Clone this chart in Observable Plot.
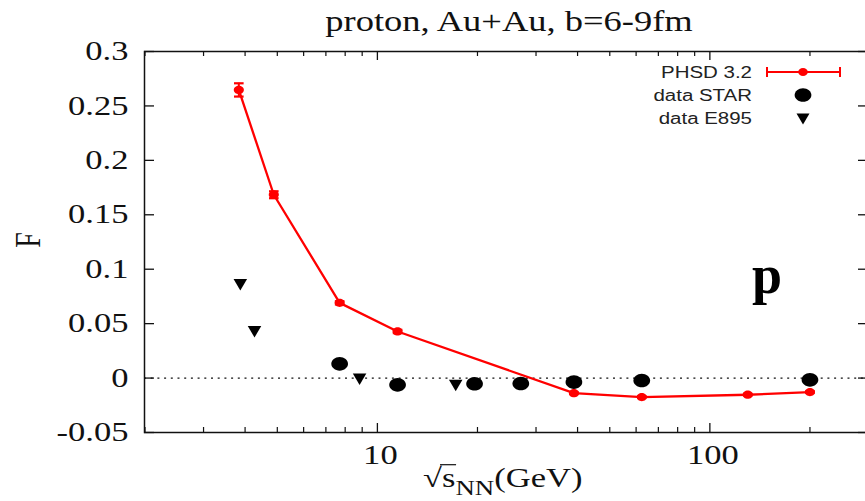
<!DOCTYPE html>
<html>
<head>
<meta charset="utf-8">
<script src="https://cdn.jsdelivr.net/npm/d3@7"></script>
<script src="https://cdn.jsdelivr.net/npm/@observablehq/plot@0.6"></script>
<style>
  html, body { margin: 0; padding: 0; background: #fff; overflow: hidden; }
  #wrap { position: relative; width: 865px; height: 501px; background: #fff; }
  #title { position: relative; height: 40px; }
  #title span {
    position: absolute; left: 509px; top: 8px; white-space: nowrap;
    font-family: "Liberation Serif", "Times New Roman", serif; font-size: 28.5px; line-height: 1;
    color: #111; transform: translateX(-50%) scaleX(1.28);
  }
  #overlay { position: absolute; left: 0; top: 0; pointer-events: none; }
</style>
</head>
<body>
<div id="wrap">
  <div id="title"><span>proton, Au+Au, b=6-9fm</span></div>
  <div id="chart"></div>
</div>
<script>
// ---- data ----
const phsdEnergy = [3.83, 4.88, 7.7, 11.5, 39, 62.4, 130, 200];
const phsdF      = [0.2647, 0.1684, 0.0691, 0.0428, -0.0139, -0.0175, -0.0153, -0.0129];
const phsdErr    = [0.0061, 0.0032, 0.0015, 0.0015, 0.0008, 0.0008, 0.0008, 0.0008];

const starEnergy = [7.7, 11.5, 19.6, 27, 39, 62.4, 200];
const starF      = [0.0131, -0.0062, -0.0052, -0.005, -0.0037, -0.0022, -0.0016];

const e895Energy = [3.87, 4.27, 8.84, 17.2];
const e895F      = [0.0857, 0.0425, -0.001, -0.0068];

const yTicks      = [-0.05, 0, 0.05, 0.1, 0.15, 0.2, 0.25, 0.3];
const yTickLabels = ["-0.05", "0", "0.05", "0.1", "0.15", "0.2", "0.25", "0.3"];
const xMajor      = [10, 100];
const xTickLabels = ["10", "100"];
const xMinor      = [2, 3, 4, 5, 6, 7, 8, 9, 20, 30, 40, 50, 60, 70, 80, 90, 200, 300];

const seriesNames = ["PHSD 3.2", "data STAR", "data E895"];
const titleText = "proton, Au+Au, b=6-9fm";
const yLabel = "F";
const panelLabel = "p";

// ---- tables ----
const phsd = phsdEnergy.map((x, i) => ({x, y: phsdF[i], e: phsdErr[i]}));
const star = starEnergy.map((x, i) => ({x, y: starF[i]}));
const e895 = e895Energy.map((x, i) => ({x, y: e895F[i]}));

// ---- custom symbols (the reference is horizontally stretched) ----
const K = 0.5523;
const ellipse = {
  draw(ctx, size) {
    const r = Math.sqrt(size / Math.PI), rx = r * 1.1, ry = r * 0.9;
    ctx.moveTo(rx, 0);
    ctx.bezierCurveTo(rx, ry * K, rx * K, ry, 0, ry);
    ctx.bezierCurveTo(-rx * K, ry, -rx, ry * K, -rx, 0);
    ctx.bezierCurveTo(-rx, -ry * K, -rx * K, -ry, 0, -ry);
    ctx.bezierCurveTo(rx * K, -ry, rx, -ry * K, rx, 0);
    ctx.closePath();
  }
};
const triDown = {
  draw(ctx, size) {
    const r = Math.sqrt(size / Math.PI), w = 2.6 * r, h = 2.2 * r;
    ctx.moveTo(-w / 2, -h / 2);
    ctx.lineTo(w / 2, -h / 2);
    ctx.lineTo(0, h / 2);
    ctx.closePath();
  }
};
const cap = {
  draw(ctx, size) {
    const r = Math.sqrt(size / Math.PI);
    ctx.moveTo(-r, 0);
    ctx.lineTo(r, 0);
  }
};

const RED = "#ff0000";
const W = 865, H = 461, mt = 11, mb = 69, ml = 144, mr = -3;
const fw = W - ml - mr, fh = H - mt - mb;

const chart = Plot.plot({
  width: W, height: H,
  marginTop: mt, marginBottom: mb, marginLeft: ml, marginRight: mr,
  x: {type: "log", domain: [2, 300], range: [144.5, 868]},
  y: {domain: [-0.05, 0.3]},
  style: {fontFamily: "Liberation Serif, Times New Roman, serif", fontSize: "27px", color: "#111", background: "white", overflow: "visible"},
  marks: [
    Plot.ruleY([0], {stroke: "#111", strokeWidth: 1.2, strokeDasharray: "2,4.7"}),
    Plot.line(phsd, {x: "x", y: "y", stroke: RED, strokeWidth: 2.3}),
    Plot.ruleX(phsd, {x: "x", y1: d => d.y - d.e, y2: d => d.y + d.e, stroke: RED, strokeWidth: 2}),
    Plot.dot(phsd, {x: "x", y: d => d.y - d.e, symbol: cap, r: 4.8, stroke: RED, strokeWidth: 2.2, fill: "none"}),
    Plot.dot(phsd, {x: "x", y: d => d.y + d.e, symbol: cap, r: 4.8, stroke: RED, strokeWidth: 2.2, fill: "none"}),
    Plot.dot(phsd, {x: "x", y: "y", symbol: ellipse, r: 4.6, fill: RED, stroke: "none"}),
    Plot.dot(star, {x: "x", y: "y", symbol: ellipse, r: 7.6, fill: "#000", stroke: "none"}),
    Plot.dot(e895, {x: "x", y: "y", symbol: triDown, r: 5.2, fill: "#000", stroke: "none"}),
    Plot.frame({stroke: "#111", strokeWidth: 1.5}),
    // inward mirrored ticks
    Plot.tickX(xMajor, {x: d => d, insetBottom: fh - 9, stroke: "#111", strokeWidth: 1.3}),
    Plot.tickX(xMajor, {x: d => d, insetTop: fh - 9, stroke: "#111", strokeWidth: 1.3}),
    Plot.tickX(xMinor, {x: d => d, insetBottom: fh - 5, stroke: "#111", strokeWidth: 1.2}),
    Plot.tickX(xMinor, {x: d => d, insetTop: fh - 5, stroke: "#111", strokeWidth: 1.2}),
    Plot.tickY(yTicks, {y: d => d, insetRight: fw - 10, stroke: "#111", strokeWidth: 1.3}),
    Plot.tickY(yTicks, {y: d => d, insetLeft: fw - 10, stroke: "#111", strokeWidth: 1.3}),
    Plot.axisX(xMajor, {tickSize: 0, tickPadding: 12, dx: 3, label: null,
      tickFormat: d => xTickLabels[xMajor.indexOf(d)], fill: "#111"}),
    Plot.axisY(yTicks, {tickSize: 0, tickPadding: 16, label: null,
      tickFormat: d => yTickLabels[yTicks.indexOf(d)], fill: "#111"})
  ]
});
document.getElementById("chart").appendChild(chart);

// horizontal stretch of text, as in the reference
chart.querySelectorAll("text").forEach(t => {
  const tr = t.getAttribute("transform") || "";
  t.setAttribute("transform", (tr + " scale(1.28,1)").trim());
});

// ---- overlay: axis labels, legend, panel label ----
const ov = d3.select("#wrap").append("svg")
  .attr("id", "overlay").attr("width", 865).attr("height", 501);

// y label
ov.append("text")
  .attr("transform", "translate(40,240) rotate(-90) scale(1,1.28)")
  .attr("text-anchor", "middle")
  .attr("font-family", "Liberation Serif, serif").attr("font-size", 28)
  .attr("fill", "#111").text(yLabel);

// x label: √s_NN(GeV)
const xl = ov.append("text")
  .attr("transform", "translate(423,487) scale(1.28,1)")
  .attr("font-family", "Liberation Serif, serif").attr("font-size", 27)
  .attr("fill", "#111");
const rad = xl.append("tspan").text("√");
const sSpan = xl.append("tspan").text("s");
xl.append("tspan").attr("font-size", 21).attr("dy", 8).text("NN");
xl.append("tspan").attr("dy", -8).text("(GeV)");
// radical overbar above "s"
try {
  const ext = sSpan.node().getExtentOfChar ? null : null;
  const n = xl.node();
  const a = n.getStartPositionOfChar(1), b = n.getEndPositionOfChar(1);
  const r0 = n.getEndPositionOfChar(0);
  ov.append("line")
    .attr("transform", "translate(423,487) scale(1.28,1)")
    .attr("x1", r0.x - 1.5).attr("x2", b.x + 0.5).attr("y1", -22.3).attr("y2", -22.3)
    .attr("stroke", "#111").attr("stroke-width", 1.2);
} catch (e) {}

// legend
const rowsY = [72, 95, 118];
const lg = ov.append("g").attr("font-family", "Liberation Sans, Arial, sans-serif").attr("font-size", 16).attr("fill", "#222");
seriesNames.forEach((name, i) => {
  lg.append("text").attr("transform", `translate(752,${rowsY[i] + 5.5}) scale(1.28,1)`)
    .attr("text-anchor", "end").text(name);
});
const sx = 803;
const sym = (s, size) => { const p = d3.path(); s.draw(p, size); return p.toString(); };
ov.append("line").attr("x1", 767).attr("x2", 840).attr("y1", rowsY[0]).attr("y2", rowsY[0])
  .attr("stroke", RED).attr("stroke-width", 2);
[767, 840].forEach(x => ov.append("line").attr("x1", x).attr("x2", x)
  .attr("y1", rowsY[0] - 5).attr("y2", rowsY[0] + 5).attr("stroke", RED).attr("stroke-width", 2));
ov.append("path").attr("transform", `translate(${sx},${rowsY[0]})`).attr("d", sym(ellipse, Math.PI * 4.4 * 4.4)).attr("fill", RED);
ov.append("path").attr("transform", `translate(${sx},${rowsY[1]})`).attr("d", sym(ellipse, Math.PI * 7.6 * 7.6)).attr("fill", "#000");
ov.append("path").attr("transform", `translate(${sx},${rowsY[2] + 1})`).attr("d", sym(triDown, Math.PI * 25)).attr("fill", "#000");

// panel label
ov.append("text").attr("x", 752).attr("y", 293)
  .attr("font-family", "Liberation Serif, serif").attr("font-weight", "bold").attr("font-size", 54)
  .attr("fill", "#000").text(panelLabel);
</script>
</body>
</html>
